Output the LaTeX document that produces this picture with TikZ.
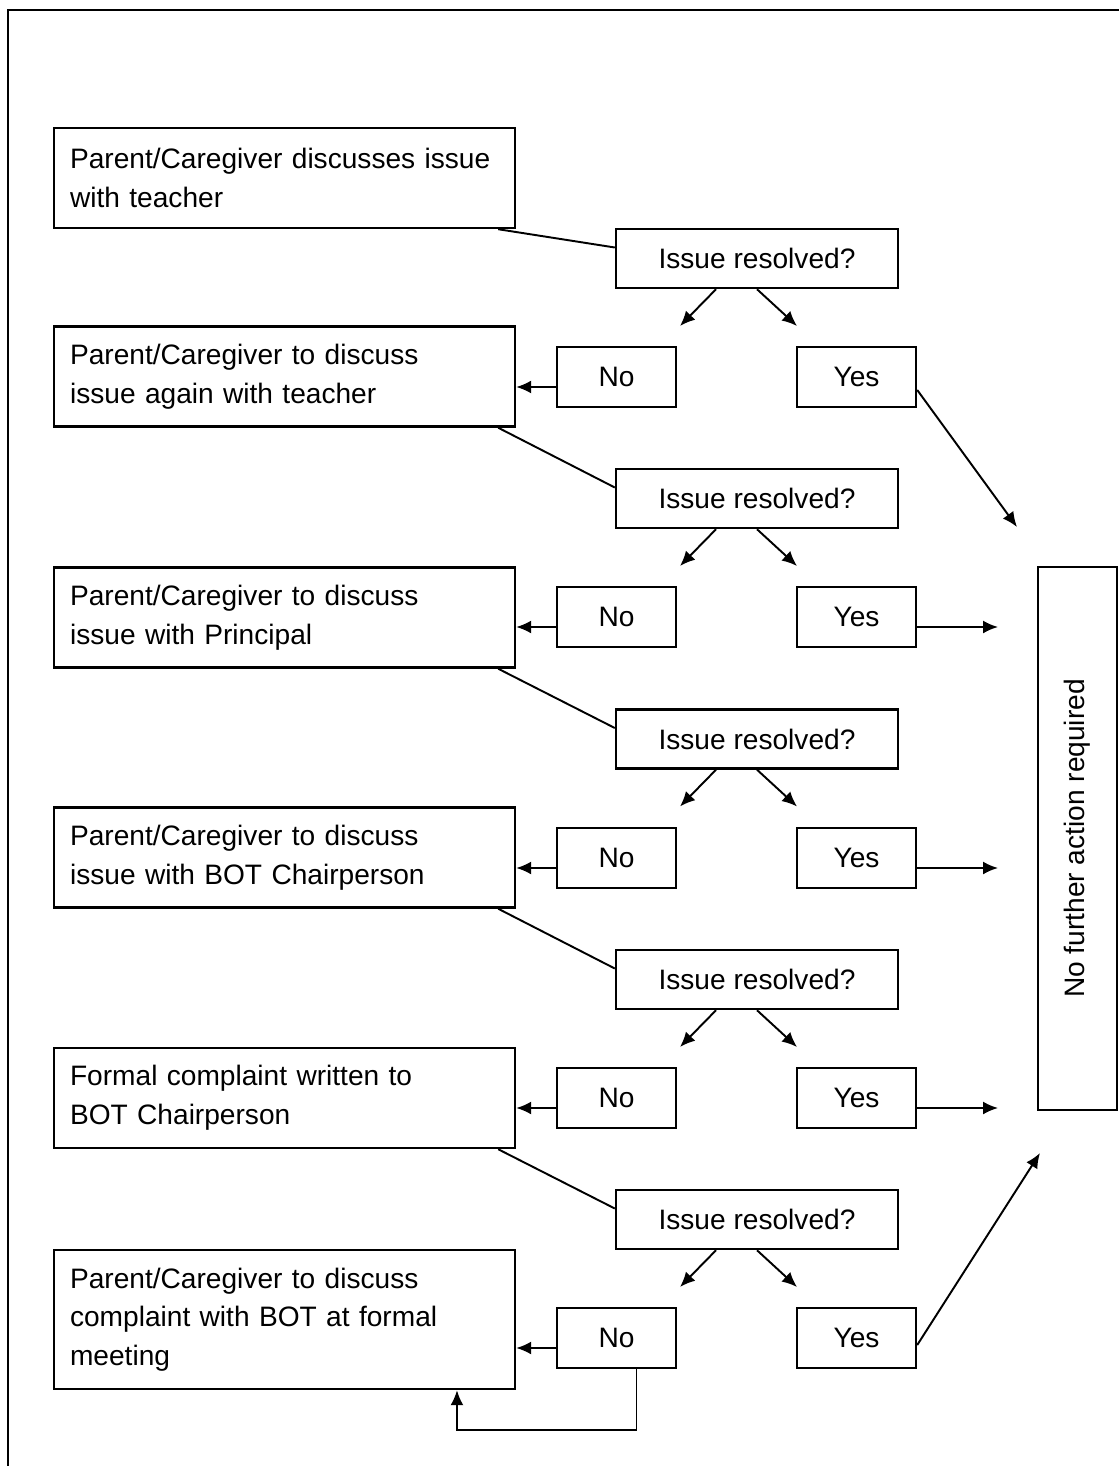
\documentclass[tikz,border=0pt]{standalone}
\usepackage{fontspec}
\setmainfont{Liberation Sans}
\usetikzlibrary{arrows.meta, positioning}

\tikzset{
  stepbox/.style={draw, line width=1.4pt, text width=8.58cm, inner xsep=0.32cm, minimum height=2cm, align=left},
  askbox/.style={draw, line width=1.4pt, minimum width=5.64cm, minimum height=1.18cm},
  ansbox/.style={draw, line width=1.4pt, minimum width=2.38cm, minimum height=1.2cm},
  link/.style={line width=1.1pt},
}

\begin{document}
\begin{tikzpicture}[x=0.02cm, y=-0.02cm, >={Latex[length=3mm,width=2.6mm]}, font=\fontsize{16}{22}\selectfont]
    \useasboundingbox (0,0) rectangle (1119,1466);
    % outer frame
    \draw[line width=1.4pt] (8,1466) -- (8,10) -- (1119,10);

    % the steps on the left
    \node[stepbox] (step1) at (284.5,178) {Parent/Caregiver discusses issue\\with teacher};
    \node[stepbox] (step2) at (284.5,376.5) {Parent/Caregiver to discuss\\issue again with teacher};
    \node[stepbox] (step3) at (284.5,617.5) {Parent/Caregiver to discuss\\issue with Principal};
    \node[stepbox] (step4) at (284.5,857.5) {Parent/Caregiver to discuss\\issue with BOT Chairperson};
    \node[stepbox] (step5) at (284.5,1098) {Formal complaint written to\\BOT Chairperson};
    \node[stepbox, minimum height=2.78cm] (step6) at (284.5,1319.5) {Parent/Caregiver to discuss\\complaint with BOT at formal\\meeting};

    % end box
    \node[draw, line width=1.4pt, rotate=90, minimum width=10.86cm, minimum height=1.58cm] (done) at (1077.5,838.5) {No further action required};

    % question, answers and their arrows
    \foreach \i/\qy/\ay in {1/258.5/377, 2/498.5/617, 3/739/858, 4/979.5/1098, 5/1219.5/1338} {
        \pgfmathtruncatemacro\j{\i+1}
        \node[askbox] (ask\i) at (757,\qy) {Issue resolved?};
        \node[ansbox] (no\i) at (616.5,\ay) {No};
        \node[ansbox] (yes\i) at (856.5,\ay) {Yes};
        \coordinate (tono\i) at (680,\qy+67.5);
        \coordinate (toyes\i) at (797,\qy+67.5);
        \draw[link] ([xshift=-0.36cm]step\i.south east) -- ([yshift=0.22cm]ask\i.west);
        \draw[link,->] ([xshift=-0.82cm]ask\i.south) -- (tono\i);
        \draw[link,->] (ask\i.south) -- (toyes\i);
        \draw[link,->] ([yshift=-0.2cm]no\i.west) coordinate (nw\i) -- (nw\i -| step\j.east);
    }

    % yes -> no further action
    \coordinate (gap) at (998,0);
    \foreach \i in {2,3,4}
        \draw[link,->] ([yshift=-0.2cm]yes\i.east) coordinate (ye\i) -- (ye\i -| gap);
    \coordinate (topend) at (1017,527);
    \coordinate (lowend) at (1040,1153);
    \draw[link,->] ([yshift=-0.26cm]yes1.east) -- (topend);
    \draw[link,->] ([yshift=-0.14cm]yes5.east) -- (lowend);

    % loop back under the last step
    \coordinate (loopc) at (550,1430);
    \draw[link,->] ([xshift=0.4cm]no5.south) |- (loopc) -| ([xshift=3.45cm]step6.south);
\end{tikzpicture}
\end{document}
